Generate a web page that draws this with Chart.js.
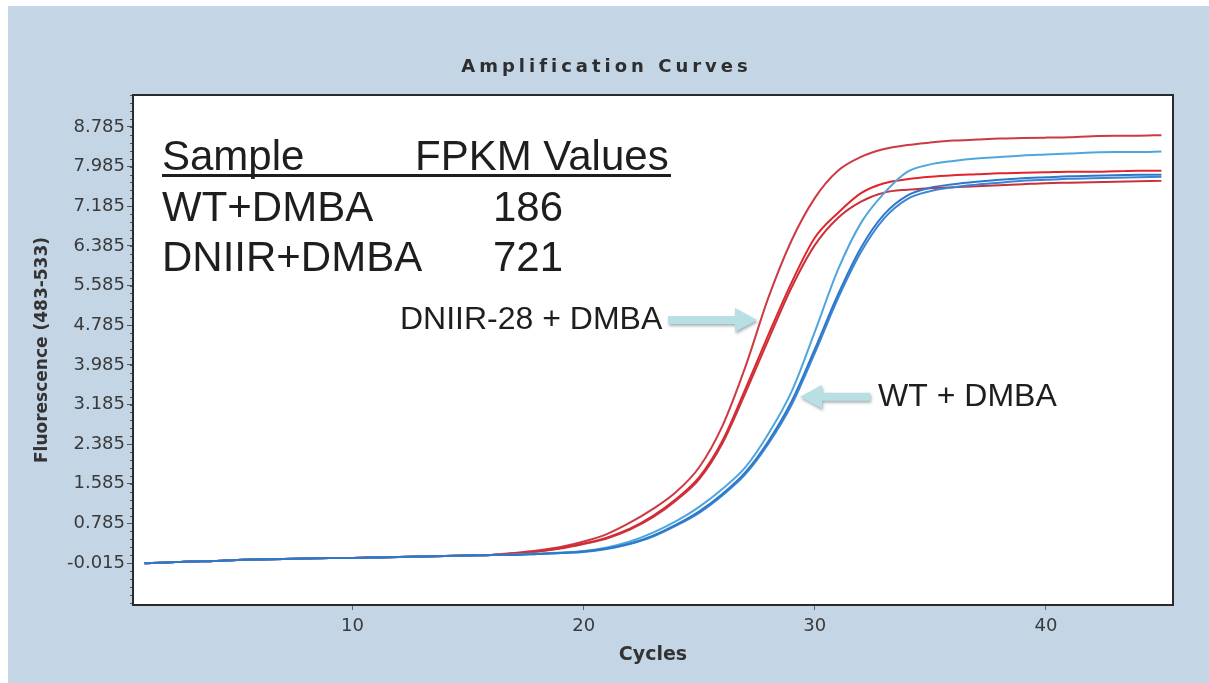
<!DOCTYPE html>
<html>
<head>
<meta charset="utf-8">
<title>Amplification Curves</title>
<script src="https://cdn.jsdelivr.net/npm/chart.js@4.4.0/dist/chart.umd.min.js"></script>
<style>
    html, body { margin: 0; padding: 0; background: #fff; }
</style>
</head>
<body>
<canvas id="myChart" width="1209" height="683"></canvas>
<script>
//Datos: ciclos y fluorescencia de cada pocillo
const ciclos = [1, 2, 3, 4, 5, 6, 7, 8, 9, 10, 11, 12, 13, 14, 15, 16, 17, 18, 19, 20, 21, 22, 23,
    24, 25, 26, 27, 28, 29, 30, 31, 32, 33, 34, 35, 36, 37, 38, 39, 40, 41, 42, 43, 44, 45];

const dniir1 = [-0.02, 0.00, 0.02, 0.03, 0.05, 0.06, 0.07, 0.08, 0.09, 0.09, 0.10, 0.11, 0.12, 0.13, 0.14, 0.15,
    0.19, 0.24, 0.31, 0.42, 0.57, 0.80, 1.08, 1.42, 1.92, 2.75, 3.95, 5.35, 6.50, 7.35, 7.90, 8.18, 8.34,
    8.42, 8.47, 8.51, 8.53, 8.55, 8.56, 8.57, 8.58, 8.60, 8.61, 8.61, 8.62];
const dniir2 = [-0.02, 0.00, 0.02, 0.03, 0.05, 0.06, 0.07, 0.08, 0.09, 0.09, 0.10, 0.11, 0.12, 0.13, 0.14, 0.15,
    0.18, 0.22, 0.29, 0.38, 0.50, 0.68, 0.94, 1.28, 1.72, 2.45, 3.50, 4.60, 5.65, 6.55, 7.05, 7.45, 7.65,
    7.73, 7.78, 7.81, 7.83, 7.85, 7.86, 7.87, 7.88, 7.88, 7.89, 7.90, 7.90];
const dniir3 = [-0.02, 0.00, 0.02, 0.03, 0.05, 0.06, 0.07, 0.08, 0.09, 0.09, 0.10, 0.11, 0.12, 0.13, 0.14, 0.15,
    0.18, 0.22, 0.28, 0.37, 0.48, 0.66, 0.91, 1.25, 1.68, 2.40, 3.42, 4.50, 5.55, 6.40, 6.95, 7.28, 7.46,
    7.52, 7.55, 7.57, 7.59, 7.61, 7.63, 7.65, 7.66, 7.67, 7.68, 7.69, 7.70];

const wt1 = [-0.02, 0.00, 0.02, 0.03, 0.05, 0.06, 0.07, 0.08, 0.09, 0.09, 0.10, 0.11, 0.12, 0.13, 0.14, 0.15,
    0.16, 0.18, 0.20, 0.23, 0.30, 0.42, 0.60, 0.83, 1.12, 1.48, 1.92, 2.60, 3.45, 4.65, 5.90, 6.85, 7.45,
    7.88, 8.03, 8.10, 8.15, 8.18, 8.21, 8.23, 8.25, 8.27, 8.28, 8.28, 8.29];
const wt2 = [-0.02, 0.00, 0.02, 0.03, 0.05, 0.06, 0.07, 0.08, 0.09, 0.09, 0.10, 0.11, 0.12, 0.13, 0.14, 0.15,
    0.15, 0.17, 0.19, 0.22, 0.28, 0.38, 0.54, 0.76, 1.03, 1.38, 1.82, 2.45, 3.25, 4.30, 5.40, 6.35, 7.02,
    7.40, 7.56, 7.63, 7.68, 7.72, 7.75, 7.77, 7.79, 7.80, 7.81, 7.82, 7.82];
const wt3 = [-0.02, 0.00, 0.02, 0.03, 0.05, 0.06, 0.07, 0.08, 0.09, 0.09, 0.10, 0.11, 0.12, 0.13, 0.14, 0.15,
    0.15, 0.17, 0.19, 0.21, 0.27, 0.37, 0.52, 0.74, 1.00, 1.35, 1.78, 2.40, 3.18, 4.22, 5.32, 6.26, 6.94,
    7.33, 7.49, 7.57, 7.62, 7.66, 7.70, 7.72, 7.74, 7.75, 7.76, 7.77, 7.78];

//Ticks de los ejes
const ticksY = [-0.015, 0.785, 1.585, 2.385, 3.185, 3.985, 4.785, 5.585, 6.385, 7.185, 7.985, 8.785];
const ticksX = [10, 20, 30, 40];

//Tabla de FPKM
const muestras = ['WT+DMBA', 'DNIIR+DMBA'];
const fpkm = [186, 721];

window.addEventListener('load', () => {
    const azulFondo = '#c4d5e6';

    function serie(datos, color, ancho) {
        return {
            data: ciclos.map((c, i) => ({ x: c, y: datos[i] })),
            borderColor: color,
            borderWidth: ancho,
            pointRadius: 0,
            cubicInterpolationMode: 'monotone',
            fill: false
        };
    }

    //Flecha con punta en (x2, y2)
    function flecha(ctx, x1, y1, x2, y2) {
        var dir = Math.sign(x2 - x1);
        var largoPunta = 22, medioPunta = 12, grosor = 4;
        var base = x2 - dir * largoPunta;
        ctx.save();
        ctx.shadowColor = 'rgba(60, 80, 90, 0.45)';
        ctx.shadowBlur = 3;
        ctx.shadowOffsetX = 1;
        ctx.shadowOffsetY = 2;
        ctx.fillStyle = '#b8dfe3';
        ctx.beginPath();
        ctx.moveTo(x1, y1 - grosor);
        ctx.lineTo(base, y1 - grosor);
        ctx.lineTo(base, y1 - medioPunta);
        ctx.lineTo(x2, y2);
        ctx.lineTo(base, y1 + medioPunta);
        ctx.lineTo(base, y1 + grosor);
        ctx.lineTo(x1, y1 + grosor);
        ctx.closePath();
        ctx.fill();
        ctx.restore();
    }

    const fondo = {
        id: 'fondo',
        beforeDraw(chart) {
            var ctx = chart.ctx, a = chart.chartArea;
            ctx.save();
            ctx.fillStyle = '#ffffff';
            ctx.fillRect(0, 0, chart.width, chart.height);
            ctx.fillStyle = azulFondo;
            ctx.fillRect(8, 6, chart.width - 8, chart.height - 6);
            ctx.fillStyle = '#ffffff';
            ctx.fillRect(a.left, a.top, a.right - a.left, a.bottom - a.top);
            ctx.restore();
        },
        afterDraw(chart) {
            var ctx = chart.ctx, a = chart.chartArea;
            var sx = chart.scales.x, sy = chart.scales.y;
            ctx.save();

            //Ticks menores del eje Y
            ctx.strokeStyle = '#555';
            ctx.lineWidth = 1;
            for (var v = ticksY[0] - 0.8; v <= sy.max; v += 0.16) {
                var py = Math.round(sy.getPixelForValue(v)) + 0.5;
                if (py < a.top || py > a.bottom) continue;
                ctx.beginPath();
                ctx.moveTo(a.left - 3, py);
                ctx.lineTo(a.left, py);
                ctx.stroke();
            }

            //Marco del area del grafico
            ctx.strokeStyle = '#2b2b2b';
            ctx.lineWidth = 2;
            ctx.strokeRect(a.left, a.top, a.right - a.left, a.bottom - a.top);

            //Titulo
            ctx.fillStyle = '#2e2e2e';
            ctx.font = 'bold 18px "DejaVu Sans"';
            ctx.letterSpacing = '4px';
            ctx.textAlign = 'center';
            ctx.textBaseline = 'middle';
            ctx.fillText('Amplification Curves', chart.width / 2 + 2, 67);
            ctx.letterSpacing = '0px';

            //Tabla de muestras
            ctx.fillStyle = '#1e1e1e';
            ctx.font = '42px "Liberation Sans", Arial';
            ctx.textAlign = 'left';
            ctx.textBaseline = 'alphabetic';
            var x0 = a.left + 29, xv = a.left + 282;
            ctx.fillText('Sample', x0, a.top + 75);
            ctx.fillText('FPKM Values', xv, a.top + 75);
            ctx.fillRect(x0, a.top + 79, 509, 3);
            muestras.forEach((m, i) => {
                ctx.fillText(m, x0, a.top + 126 + i * 50);
                ctx.fillText(String(fpkm[i]), a.left + 360, a.top + 126 + i * 50);
            });

            //Flechas y etiquetas
            ctx.font = '32px "Liberation Sans", Arial';
            ctx.textBaseline = 'middle';
            var yD = sy.getPixelForValue(4.89);
            flecha(ctx, sx.getPixelForValue(23.65), yD, sx.getPixelForValue(27.5), yD);
            ctx.fillStyle = '#1e1e1e';
            ctx.textAlign = 'right';
            ctx.fillText('DNIIR-28 + DMBA', sx.getPixelForValue(23.4), yD);

            var yW = sy.getPixelForValue(3.34);
            flecha(ctx, sx.getPixelForValue(32.4), yW, sx.getPixelForValue(29.36), yW);
            ctx.fillStyle = '#1e1e1e';
            ctx.textAlign = 'left';
            ctx.fillText('WT + DMBA', sx.getPixelForValue(32.74), yW);

            ctx.restore();
        }
    };

    const data = {
        datasets: [
            serie(wt2, '#2f78c8', 2),
            serie(wt3, '#3a86d4', 2),
            serie(wt1, '#4fa6de', 2),
            serie(dniir3, '#c8323c', 2),
            serie(dniir2, '#e0252b', 2),
            serie(dniir1, '#cc3a44', 2)
        ]
    };

    const config = {
        type: 'line',
        data: data,
        options: {
            responsive: false,
            animation: false,
            devicePixelRatio: 1,
            layout: { padding: { top: 95, right: 36, left: 0, bottom: 0 } },
            plugins: {
                legend: { display: false },
                tooltip: { enabled: false }
            },
            scales: {
                x: {
                    type: 'linear',
                    min: 0.5,
                    max: 45.5,
                    afterBuildTicks: (scale) => { scale.ticks = ticksX.map(v => ({ value: v })); },
                    afterFit: (scale) => { scale.height = 78; },
                    grid: { drawOnChartArea: false, drawTicks: true, tickLength: 5, color: '#666' },
                    border: { display: false },
                    ticks: { font: { family: 'DejaVu Sans', size: 18 }, color: '#3a3a3a', padding: 6, maxRotation: 0 },
                    title: {
                        display: true,
                        text: 'Cycles',
                        color: '#333',
                        font: { family: 'DejaVu Sans', size: 19, weight: 'bold' },
                        padding: { top: 0, bottom: 17 }
                    }
                },
                y: {
                    type: 'linear',
                    min: -0.86,
                    max: 9.43,
                    afterBuildTicks: (scale) => { scale.ticks = ticksY.map(v => ({ value: v })); },
                    afterFit: (scale) => { scale.width = 133; },
                    grid: { drawOnChartArea: false, drawTicks: true, tickLength: 6, color: '#555' },
                    border: { display: false },
                    ticks: {
                        font: { family: 'DejaVu Sans', size: 18 },
                        color: '#3a3a3a',
                        padding: 2,
                        callback: (v) => v.toFixed(3)
                    },
                    title: {
                        display: true,
                        text: 'Fluorescence (483-533)',
                        color: '#333',
                        font: { family: 'DejaVu Sans', size: 17, weight: 'bold' },
                        padding: { top: 32, bottom: 0 }
                    }
                }
            }
        },
        plugins: [fondo]
    };

    const myChart = new Chart(document.getElementById('myChart'), config);
});
</script>
</body>
</html>
